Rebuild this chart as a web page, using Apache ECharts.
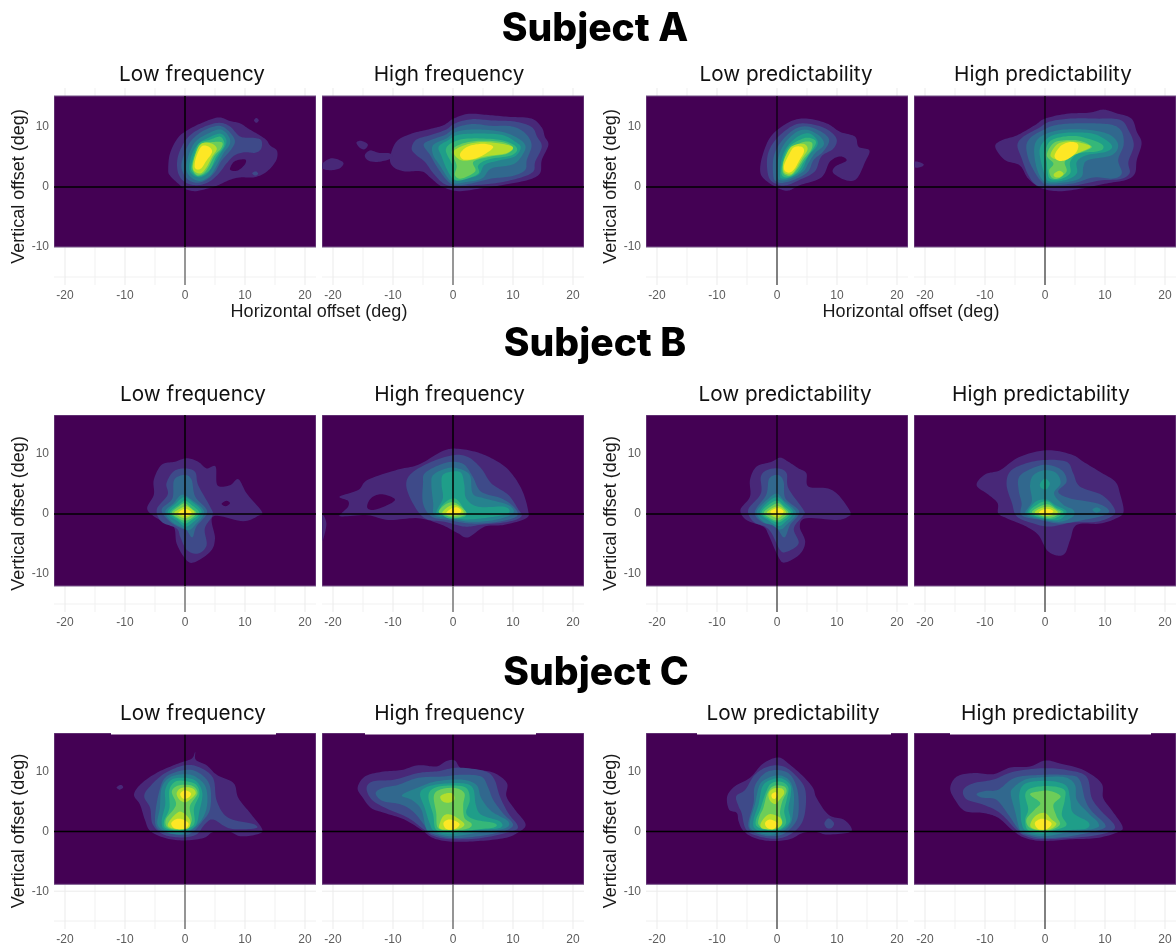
<!DOCTYPE html>
<html><head><meta charset="utf-8">
<style>html,body{margin:0;padding:0;background:#fff}#c{width:1176px;height:946px}</style>
<script src="https://cdn.jsdelivr.net/npm/echarts@6/dist/echarts.min.js"></script>
</head><body><div id="c"></div>
<script>
// --- tick labels and text ---
const xTicks = [-20,-10,0,10,20];
const yTicks = [-10,0,10];
const minorTicks = [-15,-5,5,15];
const subjects = ['Subject A','Subject B','Subject C'];
const conditions = ['Low frequency','High frequency','Low predictability','High predictability'];
const xTitle = 'Horizontal offset (deg)';
const yTitle = 'Vertical offset (deg)';
// viridis bins, index = density level
const levelColors = ['#440154','#482878','#3E4A89','#31688E','#26828E','#1F9E89','#35B779','#6DCD59','#B4DE2C','#FDE725'];
// filled area of each subject [vertical min, vertical max] in degrees
const bandA = [-10,15.17], bandB = [-12,16.5], bandC = [-8.85,16.5];

// --- density contours: [level, [h,v, h,v, ...]] in degrees ---
const A_lowFreq = [
[1,[-2.8,2.8,-2.5,5.6,-1.1,8.3,.8,9.7,3.1,10.8,5.6,11.6,7.5,11,9.2,10.6,10.6,9.7,12.5,8.6,13.6,7.8,14.2,6.9,15.3,6.1,15.3,4.7,14.4,3.3,13.1,2.2,11.4,1.6,9.2,1.6,7.5,1.2,5.3,.2,3.6,-.3,1.7,-.7,0,-.3,-1.4,.8,-2.5,1.9]],
[1,[11.5,11.1,11.9,11.5,12.3,11.1,11.9,10.7]],
[0,[7.5,3.1,8.3,4.3,10,4.6,10,3.8,8.9,2.8,7.9,2.7]],
[2,[11.2,2.3,11.8,2.6,12.2,2.2,11.7,1.9]],
[2,[-1.3,4.4,-.6,6.6,.8,8.6,3.1,10,5.6,10.7,7.5,10.1,9.2,8.4,11.4,8.2,12.7,7.8,12.7,6.4,11.7,5.7,10,5.8,8.3,5.3,6.9,3.9,5.6,2.2,3.9,.8,1.9,.3,0,.8,-1.1,2.2]],
[3,[-.6,3.3,-.1,5.6,1.1,7.8,3.1,9.4,5.6,10.2,7.2,9.4,8.3,7.8,7.8,6.4,6.1,4.4,5,2.5,3.6,1.2,1.9,.7,.3,1.4]],
[4,[.2,3.1,.6,5.3,1.7,7.5,3.6,8.8,5.8,9.6,7.2,8.6,7.5,7.2,6.4,5.6,5.3,3.6,4.2,1.9,2.5,1,.9,1.7]],
[5,[.7,3.1,1.1,5.3,2.2,7.2,3.9,8.2,5.8,8.9,6.8,8.1,6.8,7,5.8,5.4,4.7,3.6,3.7,2.2,2.4,1.6,1.3,2]],
[6,[1,3.3,1.6,5.6,2.4,7.3,4.2,7.9,5.8,8.4,6.5,7.6,6.4,6.6,5.2,5,4.3,3.1,3.2,2.1,2.1,1.8,1.3,2.4]],
[7,[1.2,3.3,1.7,5.3,2.6,7.1,4.7,7.5,6.2,7.4,6,6.4,4.9,5.2,3.9,3.3,3,2.2,1.9,2]],
[8,[1.3,3.4,1.8,5.6,2.7,7.2,4.3,7.3,5.3,6.4,4.5,5,3.6,3.3,2.7,2.3,1.7,2.5]],
[9,[1.6,3.4,1.9,5.1,2.8,6.8,4,6.7,4.5,5.8,3.5,4.3,2.8,3.2,2.1,2.9]]
];
const A_highFreq = [
[1,[-10.5,4.8,-9.4,7.6,-6.9,8.9,-4.1,9.6,-1.6,10.3,.1,11.4,2.6,12.2,5.9,12,9.2,11.7,13.1,11.4,14.8,9.9,15.3,8.4,15.9,7,14.8,4.5,14.5,2.3,12.6,1.2,8.1,.3,4.8,-.2,.9,-.7,-1.9,.1,-3.6,1.4,-5.2,2.6,-8,2.6,-9.9,3.3]],
[1,[-14.7,5.3,-13.8,6.1,-12.4,5.7,-10.5,5.6,-10.2,4.8,-12.4,4.2,-14.1,4.4]],
[1,[-16.1,7.4,-15.3,7.7,-14.2,7.1,-14.7,6.3,-15.5,6.5]],
[1,[-21.8,3.9,-20.2,4.8,-18.3,4.1,-18.9,3.1,-20.5,2.8,-21.8,3.1]],
[2,[-6.9,6.4,-6.1,7.9,-3.6,8.7,-1.1,9.6,.3,10.6,3.1,11.3,6.4,11.1,10.3,10.9,13.1,10,14,8.4,14.8,6.7,13.7,4.2,13.4,2.6,11.4,1.6,7.5,.7,3.6,.3,.3,.1,-1.6,.6,-3.3,2.3,-4.7,4.2,-6.1,5.3]],
[3,[-4.9,7,-3.8,7.8,-1.3,8.7,.3,9.8,3.1,10.5,6.4,10.2,9.8,10.1,12,9,13.1,7,12.3,4.5,12,2.8,9.8,1.8,6.4,1.4,3.1,.6,.3,.3,-1.1,1.2,-2.7,3.4,-3.8,5.3]],
[4,[-3.3,7,-1.1,8.1,.6,9.2,3.7,9.6,8.1,9.2,10.9,8.1,12.1,6.7,11.2,4.8,9.8,3.7,6.4,3.1,4.8,1.4,2,.8,.3,.6,-.8,1.4,-2.2,3.6,-3.3,5.3]],
[5,[-2.4,6.7,-.8,7.8,.9,8.7,4.2,8.9,8.1,8.7,10.3,7.6,11.3,6.6,10.3,5.1,7.6,4.4,5.3,3.7,4.2,2,1.4,1.2,.1,1.2,-1.1,3.1,-1.9,5.1]],
[6,[-1.2,6.2,.3,7.6,3.1,8.1,8.1,7.8,10.6,6.6,9.8,5.3,5.9,4.6,4.2,3.6,4.2,2.2,1.2,1.1,0,1.6,-.1,3.6]],
[7,[-.2,5.9,1.2,7.1,4.2,7.7,8.1,7.5,10,6.6,8.9,5.5,5.9,5,3.4,4.2,3.7,2.6,1.4,1.4,.3,2,.6,3.6]],
[8,[.1,5.9,2,7,4.8,7.5,8.1,7.2,10,6.6,8.8,5.6,5.4,5.1,3.2,4.5,1.2,4.5]],
[9,[1.2,5.6,2.6,6.8,5.1,7.2,6.7,6.7,5.5,5.6,3.6,4.7,1.7,4.6]]
];
const A_lowPred = [
[1,[-2.8,2.6,-2.4,5.3,-.9,8.6,2.2,10.9,4.9,11.4,8.3,10.6,10.5,9.2,13,8.4,13.6,6.7,15.4,6.1,14.7,4.2,13.3,1.4,11.6,1.1,9.4,2.3,9.7,3.4,11.6,4.4,10.5,5.1,8.8,4.2,7.4,1.6,3.8,.3,1.9,-.6,.2,-.2,-2,1.2]],
[2,[-1.4,1.7,-1.6,5.1,-.3,7.8,2.4,10.1,4.7,10.6,8,9.8,9.9,8.1,9.4,6.4,7.4,5.1,6.3,2.6,3.8,1.2,1.6,.3,-.1,.5]],
[3,[-.6,1.7,-.6,4.8,.5,7.3,2.7,9.5,4.9,10.1,7.4,9.2,8.7,7.8,7.7,5.9,6.1,4.5,5.2,2.6,3.3,1.4,1.1,.7,-.1,.9]],
[4,[.1,1.7,.2,4.8,1.3,7.3,3.3,9.2,5.2,9.5,7.2,8.4,7.8,7,6.3,5.6,5.2,3.9,4.4,2.6,2.4,1.4,.8,1.1]],
[5,[.5,2,.8,4.8,1.9,7,3.8,8.6,5.5,8.9,6.7,7.8,6.6,6.7,5.2,5.1,4.1,2.8,2.2,1.6,.9,1.4]],
[6,[.7,2.6,1.1,4.8,2.1,6.8,4.4,8.1,5.8,8.1,6.5,7.4,5.7,5.9,4.5,4.2,3.5,2.6,2.2,1.7,1.1,1.7]],
[7,[.9,3.1,1.3,4.8,2.3,6.5,4.4,7.5,5.8,7.4,5.7,6.2,4.5,4.7,3.4,3,2.3,1.9,1.2,2.1]],
[8,[1,3.7,1.5,5.3,2.5,6.8,4.4,7.2,5.1,6.3,4.1,4.6,3.1,2.9,2.3,2.1,1.2,2.4]],
[9,[1.2,3.7,2,5.4,2.8,6.6,4.1,6.7,4.5,5.9,3.7,4.4,2.9,3,2.1,2.4,1.3,2.7]]
];
const A_highPred = [
[1,[-8.3,6.7,-7.2,7.8,-4.7,8.6,-1.7,10.3,0,11.4,3.6,12.2,7.5,12.4,9.7,12.9,11.9,12.3,14.4,11.4,15.3,9.2,16.1,7.3,15.3,4.5,15,2.3,13.6,1.2,10.3,.6,6.4,-.2,2.5,-.7,-.6,-.2,-2.8,1.4,-4.2,3.6,-6.7,4.5]],
[1,[-21.7,4.2,-20.8,4.1,-20.2,3.7,-20.8,3.3,-21.7,3.3]],
[2,[-4.6,7,-3.6,8.4,-1.1,9.8,.8,10.9,4.2,11.4,8.6,11.4,12.5,11.2,13.9,9.5,14.8,7,13.9,4.2,14.1,2.3,12.5,1.3,9.2,1.1,5.3,.3,.8,0,-1.4,.3,-2.8,2,-3.9,4.8]],
[3,[-3.1,7,-2.2,8.4,-.3,9.5,1.7,10.3,4.7,10.6,8.6,10.6,11.4,10.3,12.8,9.2,13.1,7,12.2,4.5,12.8,2.3,11.4,1.4,8.1,1.6,4.7,.6,.8,.3,-.6,.9,-1.9,2.8,-2.8,4.8]],
[4,[-1.8,6.4,-1.1,8.1,1.1,9.2,3.6,9.6,7.5,9.5,10.8,8.7,12.2,7,11.1,5.3,7.2,4.5,6.4,3.4,6.1,1.7,4.2,.9,.8,.6,-.6,1.4,-1.5,3.6]],
[5,[-.9,6.2,0,7.8,1.9,8.8,5.3,9.1,8.6,8.7,11.1,7,10.3,5.9,6.9,5.3,5.3,4.2,5.3,2.3,3.6,1.2,.8,.9,0,2,-.6,3.9]],
[6,[0,5.6,.8,7.6,3.1,8.4,5.8,8.4,9.2,7.3,9.7,6.4,8.6,5.9,5.6,5.6,4.2,4.2,4.2,2.3,2.5,1.3,.8,1.4,.4,2.8,.3,4.2]],
[7,[.3,5.3,1.4,7.3,3.3,7.8,5.8,7.7,7.8,6.7,6.4,5.9,4.7,5.3,3.3,4.2,3.6,2.6,2.2,1.4,1.1,1.6,.7,2.8,1.4,3.9]],
[8,[.9,5.3,1.9,7,3.6,7.6,5.8,7.4,7.6,6.7,5.6,5.7,3.6,4.8,1.9,4.6]],
[8,[1.5,2.2,2.4,2.7,3.1,2.2,2.4,1.6,1.6,1.7]],
[9,[1.6,5.3,2.7,6.9,4.3,7.5,5.5,7.1,5.2,5.8,3.7,4.6,2.2,4.4]]
];
const B_lowFreq = [
[1,[-6.3,.8,-5.2,3.2,-5.2,5.7,-3.9,8.2,-1.7,8.7,.3,9.3,2.2,8.7,3.6,7.6,5.1,7.9,5.4,4.8,7.5,4.8,8.9,5.8,10.3,3.4,12.8,.4,12.2,-.3,9.7,-1.2,4.7,-.4,5,-4.1,4.2,-6.3,1.4,-8.1,0,-7.4,-1.4,-4.9,-1.9,-2.1,-4.2,-1]],
[0,[6.1,1.7,6.9,2.2,7.5,1.8,6.8,1.3]],
[2,[-4.7,.8,-2.9,3.2,-3.1,5.1,-1.9,7.1,0,7.6,1.7,7,2.2,4.8,4.2,1.2,4.6,-.2,3.3,-2.4,3.6,-5.2,2.2,-6.6,.3,-6,-.8,-3.8,-1.4,-2.4,-3.9,-1.3]],
[3,[-3.9,.7,-2.1,2.6,-1.8,5.7,0,6.5,1.1,5.7,1.7,2.9,3.7,.4,1.9,-2.1,1.2,-3.9,.2,-2.6,-.6,-2.4,-2.5,-1.3]],
[4,[-3.3,.4,-1.9,1.8,-.6,3.2,.8,2.6,3.2,.4,1.7,-1.8,.6,-2.7,-.8,-2.1,-2.2,-1.3]],
[5,[-2.9,.2,-1.5,1.8,-.2,2.8,1.1,2.1,2.8,.3,1.1,-1.6,0,-2.1,-1.1,-1.3]],
[6,[-2.5,.2,-1.1,1.5,0,2.2,1.1,1.5,2.4,.2,1.1,-1,0,-1.6,-1.1,-.9]],
[7,[-2.2,.2,-1.1,1.2,0,1.8,1.1,.9,1.9,.2,1.1,-.7,0,-1.1,-1.1,-.7]],
[8,[-1.8,.2,-.8,.9,.2,1.3,1.1,.8,1.6,.2,.8,-.4,0,-.7,-.9,-.4]],
[9,[-1.1,.2,-.3,.8,.4,.8,1.1,.2,.4,-.3,-.6,-.2]]
];
const B_highFreq = [
[1,[-18.9,2.9,-15.8,4,-14.2,5.7,-9.2,7.4,-5.8,8.2,-1.9,10.4,.3,10.9,3.6,10.4,6.4,9.3,9.2,7.4,11.4,4.2,12.5,.7,12.2,-.7,8.6,-1.8,5.3,-2.1,2.5,-3.9,.8,-3.2,-1.9,-1.8,-5.8,-.7,-10.8,-1,-14.2,-.2,-18.6,-.4,-18.6,.1,-17.5,1.2,-17.5,2.2]],
[0,[-14.3,1.1,-13.7,2.6,-12,3.3,-9.8,2.6,-10.3,1.8,-13.1,.7]],
[1,[-21.8,-.2,-21.1,-1.6,-21.6,-4.1,-21.8,-4.1]],
[2,[-7.8,4.8,-6.9,6.8,-3.6,8.7,0,9.8,2.5,9.5,4.7,7.6,6.4,5.1,9.2,3.2,10.8,.9,11.4,-.4,9.2,-1.3,4.7,-1.8,1.9,-2.1,-1.4,-1.3,-4.7,-.7,-6.7,1.8]],
[3,[-5,5.1,-4.7,6.8,-2.2,8.2,0,8.7,1.9,8.2,3.3,6.2,4.7,3.7,8.1,2.6,10.3,1,10.6,-.4,7.5,-1.3,3.1,-1.6,-.8,-1,-3.6,-.4,-5,1.8]],
[4,[-3.6,4.8,-3.3,6.5,-1.1,7.6,.8,7.6,2.8,6.5,3.3,3.4,5.3,2.6,9.2,1.5,10,.1,6.9,-1,2.8,-1.3,-.6,-.7,-3.1,-.2,-3.3,1.8]],
[5,[-1.9,4.8,-1.7,6.5,0,7.1,1.4,6.8,1.9,4.8,2.2,2.6,4.2,1.2,8.6,1.2,9.2,.1,5.8,-.6,1.9,-.9,-.8,-.4,-2.8,.1,-1.7,2.6]],
[6,[-2.2,.7,-1.1,2.1,.3,2.6,1.4,1.5,2.2,-.2,.8,-.7,-1.1,-.6]],
[7,[-2.4,.4,-1.1,1.7,.3,1.9,1.7,.9,2.2,0,.6,-.6,-1.1,-.3]],
[8,[-1.8,.2,-.8,1.2,.4,1.5,1.5,.8,1.7,.1,.4,-.3,-.9,-.2]],
[9,[-1.1,.2,-.3,.9,.7,1.1,1.4,.5,.8,0,-.3,0]]
];
const B_lowPred = [
[1,[-6.1,.7,-4.5,2.9,-4.5,5.7,-3.4,7.9,-.9,8.7,.5,9.4,1.9,8.7,3.6,7.6,4.9,6.8,5.2,4.6,8.3,4.3,10.2,3.2,12.2,.4,11.9,-.4,10,-1,4.9,-.7,3.8,-2.1,4.7,-4.6,3.8,-6.7,1.3,-8.1,.2,-7.1,-1.4,-3.5,-2.3,-2.1,-5.1,-1]],
[2,[-4.8,.7,-2.7,3.4,-2.7,6.2,-1.7,7.3,.2,7.6,1.6,6.8,1.9,4.3,4.4,.7,4.4,-.2,2.8,-2.4,3.6,-4.9,1.6,-6.3,.5,-6,-.9,-3.2,-2,-2.1,-3.9,-1.3]],
[3,[-3.7,.4,-1.8,3.2,-1.3,5.9,.2,6.5,1.1,5.4,1.4,2.6,3.7,.4,2.2,-1.8,1.2,-3.9,-.3,-2.1,-2.6,-1.3]],
[4,[-3.4,.4,-1.4,2.6,0,3.4,1.1,2.3,3.2,.2,1.6,-1.8,.5,-2.6,-.9,-1.8,-2.3,-1.3]],
[5,[-2.9,.2,-1.4,2.1,.1,2.8,1.3,1.8,2.7,.2,1.3,-1.4,.2,-2,-1.4,-1.1]],
[6,[-2.6,.2,-1.2,1.7,.1,2.2,1.2,1.3,2.3,.2,1.1,-1,.1,-1.4,-1.2,-.9]],
[7,[-2.2,.2,-1.1,1.2,.2,1.8,1.2,1,1.9,.2,1.1,-.6,.1,-1.1,-1.1,-.7]],
[8,[-1.7,.2,-.9,.9,.2,1.3,1.1,.8,1.5,.2,.8,-.3,.1,-.7,-.9,-.3]],
[9,[-1.1,.4,-.3,.9,.5,.9,1.1,.4,.5,-.2,-.5,-.2]]
];
const B_highPred = [
[1,[-11.4,4.8,-10,6.6,-7.5,7.3,-4.7,9.3,-1.4,10.4,1.4,10.6,4.7,9.8,6.4,8.7,9.2,7,11.7,5.4,12.5,3.4,13.1,.4,11.9,-.7,9.2,-1.6,5.3,-1.8,4.2,-4.3,3.3,-6.6,1.9,-6.9,.3,-6,-1.1,-3.5,-3.1,-2.1,-6.4,-.7,-7.8,.1,-7.9,1.8,-9.4,3.2]],
[2,[-6.4,4.8,-5.8,7.1,-3.3,8.4,0,9,3.6,8.7,4.7,6.8,5.8,4.6,9.4,3.2,11.4,1.2,11.4,-.2,8.6,-1.3,4.7,-1.4,.8,-2.1,-1.9,-1.6,-4.7,-.4,-5.5,1.8]],
[3,[-4.4,4,-4.3,6.2,-2.2,7.6,.3,8.2,2.8,7.3,3.6,5.4,2.2,3.7,4.2,2.6,8.6,1.8,10.6,.7,9.9,-.2,6.4,-1,2.5,-1.6,-.8,-1,-3.9,-.2,-3.9,1.8]],
[4,[7.9,.7,8.6,1.1,9.3,.7,8.6,.2]],
[4,[-2.5,4.8,-1.9,6.5,0,7.3,1.9,6.8,2.6,5.1,1.5,3.4,3.1,1.5,4.7,.7,4.7,-.4,2.5,-1.3,-.6,-.9,-3.3,0,-2.2,2.1]],
[5,[-.8,5.1,0,5.9,.8,5.1,.2,4.1,-.7,4.4]],
[5,[-2.9,.4,-1.5,2.1,.3,2.4,1.7,1.5,3.6,.4,2.2,-1,-.6,-.7,-2.5,-.2]],
[6,[-2.6,.3,-1.1,1.7,.4,2.1,1.8,1.1,3.1,.3,1.4,-.8,-.6,-.6]],
[7,[-2.2,.3,-.8,1.3,.6,1.6,1.9,.8,2.6,.3,1.1,-.6,-.7,-.3]],
[8,[-1.7,.3,-.6,1,.7,1.2,1.7,.7,2.1,.2,.8,-.3,-.7,-.2]],
[9,[-1,.3,-.2,.8,.8,.8,1.4,.4,.6,0,-.6,0]]
];
const C_lowFreq = [
[1,[-8.5,6.2,-7.2,8.1,-4.4,10,-1.1,11.4,1.1,12.2,1.7,13.3,1.8,12,3.6,11.1,5.3,9.5,8.1,8.1,8.9,5.6,11.1,2.8,12.9,.3,11.9,-.5,9.2,-.8,7.5,-.1,4.7,-.1,3.1,-1.1,-.3,-1.5,-3.3,-1.1,-5.8,.1,-6.7,2,-7.5,4.5]],
[1,[-11.4,7.4,-10.7,7.8,-10.3,7.4,-10.9,7]],
[2,[-6.8,5.9,-5.8,7.6,-3.3,9.8,0,11.1,2.5,10.7,4.7,8.9,5.3,5.1,7.2,2.3,11.5,1.2,11.6,.5,7.5,.5,4.7,2,3.3,1.2,1.9,-.5,-.6,-1,-3.6,-.5,-5.4,1.2,-5.8,3.9]],
[3,[-4.3,6.7,-3.1,9.2,0,10.3,2.2,9.9,4.1,7.8,4.2,3.9,2.9,1.7,.8,-.4,-1.7,-.5,-4.4,.3,-5,2.3]],
[4,[-3.9,7.3,-2.5,9.1,0,9.6,1.9,9.1,3.5,7.3,3.6,3.9,2.2,1.2,-.3,-.4,-3.1,-.1,-4.6,1.2,-4.2,3.9]],
[5,[-3.3,7,-2.2,8.7,0,9,1.9,8.4,2.9,6.4,2.4,3.4,1.7,.9,-.6,-.1,-3.3,.3,-3.9,1.7,-3.3,4.5]],
[6,[-2.6,7,-1.5,8.4,.3,8.4,1.9,7.8,2.4,6.2,1.5,3.9,1.5,1.2,-.6,.2,-3.1,.5,-3.5,1.7,-2.6,3.9]],
[7,[-2.2,6.7,-1.1,7.7,1.1,7.7,2.1,6.4,.8,4.2,1.1,1.7,-.3,.3,-2.8,.6,-3.2,2,-1.9,3.7,-1.5,4.8]],
[8,[-1.4,6.4,-.6,7.3,1.1,7.3,1.8,6.4,.8,5.3,0,4.9,-.9,5.3]],
[8,[-2.8,1.4,-1.7,2.8,-.6,3.3,.8,2,.6,.6,-1.1,.4,-2.6,.7]],
[9,[-.8,6.3,0,6.9,1,6.4,.6,5.7,-.3,5.5]],
[9,[-2.3,1.4,-1.4,2.1,-.3,2,.6,1.3,0,.5,-1.7,.5]]
];
const C_highFreq = [
[1,[-15.9,7.3,-14.7,9.2,-11.9,10,-8.6,10.3,-5.8,11.1,-2.8,10.9,-1.1,11.8,.3,11.9,1.4,10.6,4.2,10.3,6.9,9.8,9,8.1,8.9,5.9,10.3,3.7,12.1,1.2,10.8,-.2,8.6,-1.1,4.2,-1.6,-.3,-1.7,-3.3,-1.1,-5.3,.3,-8.1,2,-11.4,3.1,-13.6,3.9,-15,5.6]],
[2,[-14.4,7.3,-13.3,8.4,-9.7,8.7,-5.8,9.8,-2.5,10.1,.8,10.7,5.3,10.1,6.9,8.7,7.8,5.9,9.2,3.1,10.8,.9,9.7,0,4.7,-1.1,-.3,-1.3,-3.1,-.8,-4.7,.2,-7.5,2.3,-11.4,4,-13.6,5.4]],
[3,[-12.9,6.4,-11.7,7.3,-9.2,7.8,-5.8,9,-1.9,9.2,1.4,9.5,4.7,9.2,5.8,7.5,6.7,5.3,8.3,3.1,10,1.2,8.6,.1,4.2,-.8,-.3,-1.1,-3.1,-.5,-4.2,.3,-6.4,3.1,-8.6,4.5,-11.7,5.1]],
[4,[-8.5,6.1,-5.5,7.5,-2.8,8.4,1.4,8.7,3.9,7.8,4.7,5.6,6.4,3.4,9.2,1.7,8.6,.5,4.2,-.2,-.3,-.8,-3.1,-.2,-4.4,.3,-5.3,3.7,-6.9,5.3]],
[5,[-5.5,6.2,-4.7,7.3,-2.5,7.9,1.4,8.1,3.3,7.3,3.8,4.5,4.7,2.8,7.8,1.7,7.8,.6,3.6,.2,-.3,-.4,-3.1,.1,-3.9,1.4,-4.7,3.9]],
[6,[-4.1,5.9,-3.1,7.3,-.3,7.7,2.2,7.3,2.8,5.3,2.2,3.1,3.6,2,6.9,1.4,6.9,.7,3.6,.3,-.3,-.1,-2.8,.3,-3.3,2.8]],
[7,[-3.2,5.9,-2.2,7,.3,7.3,1.9,6.4,1.7,4.5,1.9,2.3,3.1,1.3,2.5,.5,-.3,.2,-2.5,.6,-2.8,3.1]],
[8,[-2.1,5.9,-1.1,6.4,0,6.3,.2,5.3,-.8,4.8,-1.8,5.1]],
[8,[-2.2,1.4,-1.5,2.7,-.3,2.8,1.1,2,1.9,1.2,1.1,.5,-.8,.3,-2.2,.5]],
[9,[-1.6,1.4,-.8,2,.3,1.8,1.1,1.2,.3,.4,-1.1,.4]]
];
const C_lowPred = [
[1,[-8.3,5.9,-7,7.6,-4.5,9,-2.3,11.4,.2,12.4,1.9,11.4,4.4,9.2,6,7.3,6.6,5.6,8.6,2.8,11.1,2,12.4,.6,11.9,-.2,8.3,-.5,6.6,-.1,4.4,-.2,2.1,-1.3,-.9,-1.6,-3.7,-1.1,-5.6,.1,-6.4,1.7,-6.7,3.1,-8,3.7]],
[2,[7.9,1.4,8.6,2.2,9.5,1.4,9.1,.6,8.3,.6]],
[2,[-6.8,5.9,-5.3,7,-3.7,9.5,-1.4,10.9,1.1,10.9,3.3,9.2,4.7,7,4.7,3.4,3.8,.9,1.6,-.8,-.9,-1.2,-4,-.5,-5.3,.6,-5.9,3.1,-6.4,4.2]],
[3,[-3.9,4.8,-3.7,7.6,-2,9.8,.2,10.3,2.2,9.5,3.4,7,3.6,3.4,3,1.4,1.1,-.4,-1.4,-.8,-3.9,-.1,-4.8,1.2]],
[4,[-3.7,4.5,-2.9,7.8,-1.4,9,.5,9.4,2.1,8.5,2.8,6.4,2.7,3.4,2.2,1.2,.5,-.2,-1.7,-.5,-4.2,.3,-4.5,1.7]],
[5,[-3.1,4.5,-2.4,7.6,-.9,8.7,.8,8.9,2.2,7.8,2.3,6.2,1.9,3.9,2.2,1.7,.5,.2,-1.7,-.1,-3.7,.5,-3.9,2]],
[6,[-2.8,3.7,-1.8,6.7,-.9,8.1,.8,8.3,1.9,7.3,1.6,5.3,1.2,3.4,1.5,1.4,.2,.3,-2,.3,-3.4,.9,-3.5,2]],
[7,[-2.3,3.9,-1.6,6.4,-.6,7.6,1.1,7.6,1.6,6.7,.9,5.1,.5,3.1,.9,1.4,-.1,.4,-2,.4,-3.1,1.2,-2.9,2.6]],
[8,[-1.4,6.4,-.6,7.2,.8,7.2,1.2,6.4,.4,5.3,-.3,4.6,-1.2,5.2]],
[8,[-2.7,1.4,-1.8,2.6,-.9,2.9,.5,2.3,.8,1.3,-.1,.5,-1.7,.4,-2.6,.6]],
[9,[-.9,6.2,-.3,6.6,.1,6.2,-.3,5.5,-.8,5.6]],
[9,[-2,1.4,-1.3,2,-.3,1.7,.1,1.2,-.6,.4,-1.6,.6]]
];
const C_highPred = [
[1,[-15.8,7.3,-14.7,9.2,-11.9,9.8,-8.6,9.6,-5.8,10.7,-2.5,10.9,0,11.9,2.5,11.4,6.4,10.3,9.4,8.1,9.7,5.6,11.1,3.6,12.9,.9,12.2,-.1,8.6,-1.1,4.2,-1.3,-.3,-1.6,-3.3,-1.1,-5.3,.1,-7.8,2.3,-10.3,3.1,-13.3,3.4,-15,5.3]],
[2,[-13.6,7,-11.9,8.1,-8.6,8.7,-5.3,10,-.3,10.6,3.6,10.3,6.9,9.2,7.8,5.6,9.4,3.4,11.5,1.2,11.1,.1,7.5,-.8,-.3,-1.3,-3.1,-.8,-4.7,.2,-7.5,3.1,-10.3,4.5,-13.1,5.4]],
[3,[-11.4,6.3,-10,6.8,-7.8,7,-5,9,-.3,9.5,4.2,9.4,5.8,8.6,6.7,5.3,7.8,3.4,10,1.2,9.2,.3,4.2,-.8,-.3,-1.1,-3.1,-.5,-4.3,.2,-6.1,2.8,-8.1,5.3,-10.6,5.7]],
[4,[-5.7,6.2,-5.3,7.3,-3.3,8.7,-.3,9.1,3.3,9.1,5,7.8,5.3,5.3,7.2,3.1,8.9,1.4,8.3,.5,3.6,-.2,-.3,-.8,-3.3,-.2,-4.2,.3,-5,3.4]],
[5,[-4.3,6.2,-3.6,7.8,-1.7,8.4,1.4,8.4,3.6,7.6,4.2,5.3,4.7,3.1,7.2,1.6,6.9,.5,3.6,.2,-.3,-.4,-3.1,.1,-3.9,1.4,-4.1,3.9]],
[6,[-3.3,6.2,-2.2,7.3,.8,7.6,3.2,7,3.3,5.3,2.8,2.8,3.6,1.2,2.5,.5,-.3,-.1,-2.8,.2,-3.3,2,-2.8,3.7]],
[7,[-2.5,6.2,-1.1,6.7,.8,6.8,2.6,5.9,1.4,4.5,1.9,2.6,2.5,1.2,1.1,.3,-.6,.2,-2.5,.6,-3.1,2,-1.7,3.7,-.8,4.8]],
[8,[-2.4,1.4,-1.5,2.7,0,3.1,1.1,2,1.9,1.3,1.1,.5,-.6,.2,-2.2,.6]],
[9,[-1.7,1.4,-.8,2.1,.2,2,1.1,1.3,.3,.4,-1.1,.4]]
];

// --- layout ---
const contourRows = [[A_lowFreq,A_highFreq,A_lowPred,A_highPred],[B_lowFreq,B_highFreq,B_lowPred,B_highPred],[C_lowFreq,C_highFreq,C_lowPred,C_highPred]];
const bands = [bandA,bandB,bandC];
const gridLefts = [54,322,646,914], gridTops = [88,415,733], gw = 262, gh = 197;
const xRange = [-21.8333,21.8333], yRange = [-16.3333,16.5];
const subjPos = [[595,10],[595,325],[596,654]];
const condY = [64,384,703];
const condX = [[192,449,786,1043],[193,449.5,785,1041],[193,449.5,793,1050]];
const notches = [[111,276],[365,536],[697,891],[950,1151]];
const sansTitle = 'Inter, "Noto Sans", sans-serif', sansAxis = '"Liberation Sans", Arial, sans-serif';
function lineStyle(r,c){ if(c>1) return {w:1.1,low:'#222'}; return r===2?{w:1.2,low:'#555'}:{w:1.5,low:'#777'}; }

const grid=[],xAxis=[],yAxis=[],series=[],title=[],graphic=[];
function toPts(flat){const p=[];for(let i=0;i<flat.length;i+=2)p.push([flat[i],flat[i+1]]);return p;}
// closed Catmull-Rom curve through the read contour points (pixel space, drawing only)
function curve(pts){
  const out=[],n=pts.length,steps=10;
  for(let i=0;i<n;i++){
    const a=pts[(i-1+n)%n],b=pts[i],c=pts[(i+1)%n],d=pts[(i+2)%n];
    for(let s=0;s<steps;s++){
      const t=s/steps,t2=t*t,t3=t2*t;
      out.push([0,1].map(k=>0.5*(2*b[k]+(c[k]-a[k])*t+(2*a[k]-5*b[k]+4*c[k]-d[k])*t2+(3*b[k]-a[k]-3*c[k]+d[k])*t3)));
    }
  }
  return out;
}
function lineSeries(idx,data,color,w,z){
  series.push({type:'line',xAxisIndex:idx,yAxisIndex:idx,data,showSymbol:false,symbol:'none',silent:true,animation:false,z,
    lineStyle:{color,width:w,cap:'butt'},clip:false});
}
let idx=0;
contourRows.forEach((row,r)=>{
  const band=bands[r];
  row.forEach((polys,c)=>{
    grid.push({left:gridLefts[c],top:gridTops[r],width:gw,height:gh});
    xAxis.push({type:'value',gridIndex:idx,min:xRange[0],max:xRange[1],
      axisLine:{show:false},axisTick:{show:false},splitLine:{show:false},
      axisLabel:{show:true,customValues:xTicks,margin:5,fontSize:12,color:'#5c5c5c',fontFamily:sansAxis}});
    yAxis.push({type:'value',gridIndex:idx,min:yRange[0],max:yRange[1],
      name:c%2===0?yTitle:'',nameLocation:'middle',nameRotate:90,nameGap:26,
      nameTextStyle:{fontSize:18,color:'#1a1a1a',fontFamily:sansAxis},
      axisLine:{show:false},axisTick:{show:false},splitLine:{show:false},
      axisLabel:{show:c%2===0,customValues:yTicks,margin:5,fontSize:12,color:'#5c5c5c',fontFamily:sansAxis}});
    // grid lines: [orientation 0=vertical 1=horizontal, value, minor 0/1]
    const gridRows=[...minorTicks.map(v=>[0,v,1]),...minorTicks.map(v=>[1,v,1]),...xTicks.map(v=>[0,v,0]),...yTicks.map(v=>[1,v,0])];
    series.push({type:'custom',xAxisIndex:idx,yAxisIndex:idx,silent:true,animation:false,z:1,encode:{x:1,y:1},
      data:gridRows,
      renderItem:(params,api)=>{
        const g=gridRows[params.dataIndex];
        const a=g[0]===0?api.coord([g[1],yRange[0]]):api.coord([xRange[0],g[1]]);
        const b=g[0]===0?api.coord([g[1],yRange[1]]):api.coord([xRange[1],g[1]]);
        return {type:'line',shape:{x1:a[0],y1:a[1],x2:b[0],y2:b[1]},
          style:{stroke:g[2]?'#f1f1f1':'#ebebeb',lineWidth:1}};
      }});
    const items=[[0,[xRange[0],band[0],xRange[1],band[0],xRange[1],band[1],xRange[0],band[1]],true]].concat(polys);
    series.push({type:'custom',xAxisIndex:idx,yAxisIndex:idx,silent:true,animation:false,clip:true,z:2,
      encode:{x:0,y:1},
      data:items.map(it=>[it[1][0],it[1][1],it[0]]),
      renderItem:(params,api)=>{
        const it=items[params.dataIndex];
        const pts=toPts(it[1]).map(p=>api.coord(p));
        const isBg=it[2]===true;
        return {type:'polygon',shape:{points:isBg?pts:curve(pts)},
          style:{fill:levelColors[it[0]],stroke:isBg?'#7a5a8c':null,lineWidth:isBg?1:0}};
      }});
    const ls=lineStyle(r,c);
    lineSeries(idx,[[xRange[0],0],[xRange[1],0]],'#000',1.5,5);
    lineSeries(idx,[[0,band[0]],[0,band[1]]],'#000',ls.w,5);
    lineSeries(idx,[[0,yRange[0]],[0,band[0]]],ls.low,ls.w,5);
    title.push({text:conditions[c],left:condX[r][c],top:condY[r],textAlign:'center',
      textStyle:{fontFamily:sansTitle,fontSize:20.7,fontWeight:400,color:'#111'},padding:0,z:20});
    idx++;
  });
  title.push({text:subjects[r],left:subjPos[r][0],top:subjPos[r][1],textAlign:'center',
    textStyle:{fontFamily:sansTitle,fontSize:39,fontWeight:800,color:'#000'},padding:0,z:20});
});
[319,911].forEach(x=>title.push({text:xTitle,left:x,top:303,textAlign:'center',
  textStyle:{fontFamily:sansAxis,fontSize:18,fontWeight:400,color:'#1a1a1a'},padding:0}));
notches.forEach(n=>graphic.push({type:'rect',left:n[0],top:727,shape:{width:n[1]-n[0],height:7.5},style:{fill:'#fff'},z:50,silent:true}));

const chart=echarts.init(document.getElementById('c'),null,{renderer:'canvas',width:1176,height:946});
chart.setOption({animation:false,backgroundColor:'#fff',grid,xAxis,yAxis,series,title,graphic});
</script></body></html>
